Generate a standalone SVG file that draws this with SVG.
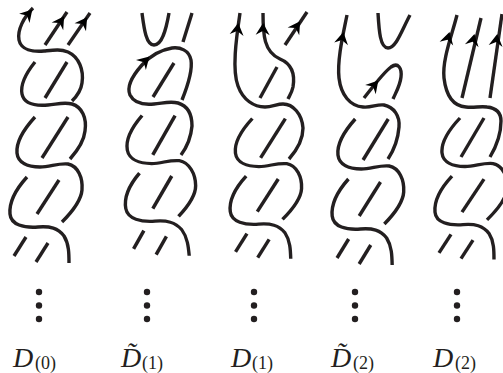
<svg xmlns="http://www.w3.org/2000/svg" xmlns:xlink="http://www.w3.org/1999/xlink" width="503" height="373" viewBox="0 0 503 373">
<style>
.s{fill:none;stroke:#231f20;stroke-width:3.4;stroke-linecap:butt;stroke-linejoin:round}
.ah,.dot{fill:#231f20}
.D{font-family:"Liberation Serif","Times New Roman",serif;font-style:italic;font-size:28px;fill:#231f20}
.sub{font-family:"Liberation Serif","Times New Roman",serif;font-size:18px;fill:#231f20}
</style>
<defs>
<path id="ah" d="M2,0 L-10,-7 L-6,0 L-10,7 Z"/>
<path id="b2" class="s" d="M68,117 L42,158"/>
<g id="common">
<path class="s" d="M35,117 C24,129 16,142 17,153 C18,163 28,167 40,167 C50,167 58,163 68,164 C78,166 83,178 82,190 C81,202 70,214 62,222"/>
<path class="s" d="M59,180 L37,214"/>
<path class="s" d="M27,177 C17,188 9,202 10,214 C11,225 24,228 38,227 C50,226 58,228 64,236 C69,244 69,254 69,263"/>
<path class="s" d="M26,237 L14,256"/>
<path class="s" d="M48,243 L36,262"/>
</g>
<g id="dots">
<circle class="dot" cx="0" cy="292" r="3.2"/>
<circle class="dot" cx="0" cy="305.5" r="3.2"/>
<circle class="dot" cx="0" cy="319" r="3.2"/>
</g>
</defs>

<g id="col-D0">
<path class="s" d="M33,8 C24,17 17,30 19,40 C21,50 33,52 44,51 C54,50 60,49 68,52 C79,57 84,70 82,83 C81,91 76,97 72,101"/>
<path class="s" d="M45,45 L67,12"/>
<path class="s" d="M68,45 L90,13"/>
<path class="s" d="M67,62 L45,98"/>
<path class="s" d="M35,62 C27,72 20,84 22,94 C24,104 36,106 48,105 C58,104 64,102 72,104 C82,107 87,118 85,131 C84,141 78,150 70,159"/>
<use xlink:href="#b2"/>
<use xlink:href="#common"/>
<use xlink:href="#ah" transform="translate(31,11) rotate(-48)"/>
<use xlink:href="#ah" transform="translate(63,18) rotate(-56)"/>
<use xlink:href="#ah" transform="translate(86,19) rotate(-55)"/>
<use xlink:href="#dots" transform="translate(39,0)"/>
<text class="D" x="13" y="367">D</text><text class="sub" x="35" y="369">(0)</text>
</g>

<g id="col-D1tilde">
<path class="s" d="M142,13 C144,28 146,45 154,45 C162,45 166,30 169,13"/>
<path class="s" d="M192,13 L183,42"/>
<path class="s" d="M174,63 L153,97"/>
<path class="s" d="M182,100 C186,90 193,72 191,60 C189,50 180,47 172,48 C160,50 150,56 142,65 C134,74 126,86 130,95 C134,103 144,105 154,104 C164,103 170,101 178,103 C188,106 192,114 192,126 C191,137 187,147 181,155"/>
<g transform="matrix(1,0,0.09,0.96,96.55,3.2)">
<use xlink:href="#b2"/>
<use xlink:href="#common"/>
</g>
<use xlink:href="#ah" transform="translate(148,58) rotate(-45)"/>
<use xlink:href="#dots" transform="translate(147,0)"/>
<text class="D" x="121" y="367">D&#x303;</text><text class="sub" x="142" y="369">(1)</text>
</g>

<g id="col-D1">
<path class="s" d="M240,13 C236,40 232,70 238,86 C243,100 254,107 265,107 C272,107 277,104 283,104 C293,104 302,114 303,128 C303,140 297,150 289,159"/>
<path class="s" d="M263,13 C263,35 264,52 280,59 C292,64 295,75 293,87 C292,92 290,95 288,99"/>
<path class="s" d="M285,45 L307,12"/>
<path class="s" d="M277,67 L260,98"/>
<g transform="matrix(1,0,0.03,0.96,213.85,6.2)">
<use xlink:href="#b2"/>
<use xlink:href="#common"/>
</g>
<use xlink:href="#ah" transform="translate(238,25) rotate(-82)"/>
<use xlink:href="#ah" transform="translate(263,25) rotate(-88)"/>
<use xlink:href="#ah" transform="translate(299,23) rotate(-56)"/>
<use xlink:href="#dots" transform="translate(254,0)"/>
<text class="D" x="231" y="367">D</text><text class="sub" x="252" y="369">(1)</text>
</g>

<g id="col-D2tilde">
<path class="s" d="M347,15 C343,35 337,60 339,78 C341,95 350,106 363,107 C371,108 377,104 384,105 C394,107 400,116 399,127 C398,140 394,150 388,159"/>
<path class="s" d="M378,13 C379,30 380,48 388,48 C396,48 401,32 410,15"/>
<path class="s" d="M364,98 C372,88 383,73 391,67 C398,62 402,68 401,77 C400,86 396,92 393,99"/>
<g transform="matrix(1,0,0.02,1,317.9,2)">
<use xlink:href="#b2"/>
<use xlink:href="#common"/>
</g>
<use xlink:href="#ah" transform="translate(343,34) rotate(-79)"/>
<use xlink:href="#ah" transform="translate(377,82) rotate(-49)"/>
<use xlink:href="#dots" transform="translate(355,0)"/>
<text class="D" x="331" y="367">D&#x303;</text><text class="sub" x="353" y="369">(2)</text>
</g>

<g id="col-D2">
<path class="s" d="M457,15 C452,35 442,60 444,78 C446,95 452,106 466,107 C474,108 480,106 487,107 C496,108 501,113 501,121 C501,134 496,147 490,157"/>
<path class="s" d="M462,98 L481,18"/>
<path class="s" d="M490,98 L502,14"/>
<path class="s" d="M484,118 L461,157"/>
<g transform="matrix(1,0,0,0.97,425,4.5)">
<use xlink:href="#common"/>
</g>
<use xlink:href="#ah" transform="translate(449,34) rotate(-75)"/>
<use xlink:href="#ah" transform="translate(474,36) rotate(-77)"/>
<use xlink:href="#ah" transform="translate(497,36) rotate(-82)"/>
<use xlink:href="#dots" transform="translate(457,0)"/>
<text class="D" x="433" y="367">D</text><text class="sub" x="455" y="369">(2)</text>
</g>
</svg>
